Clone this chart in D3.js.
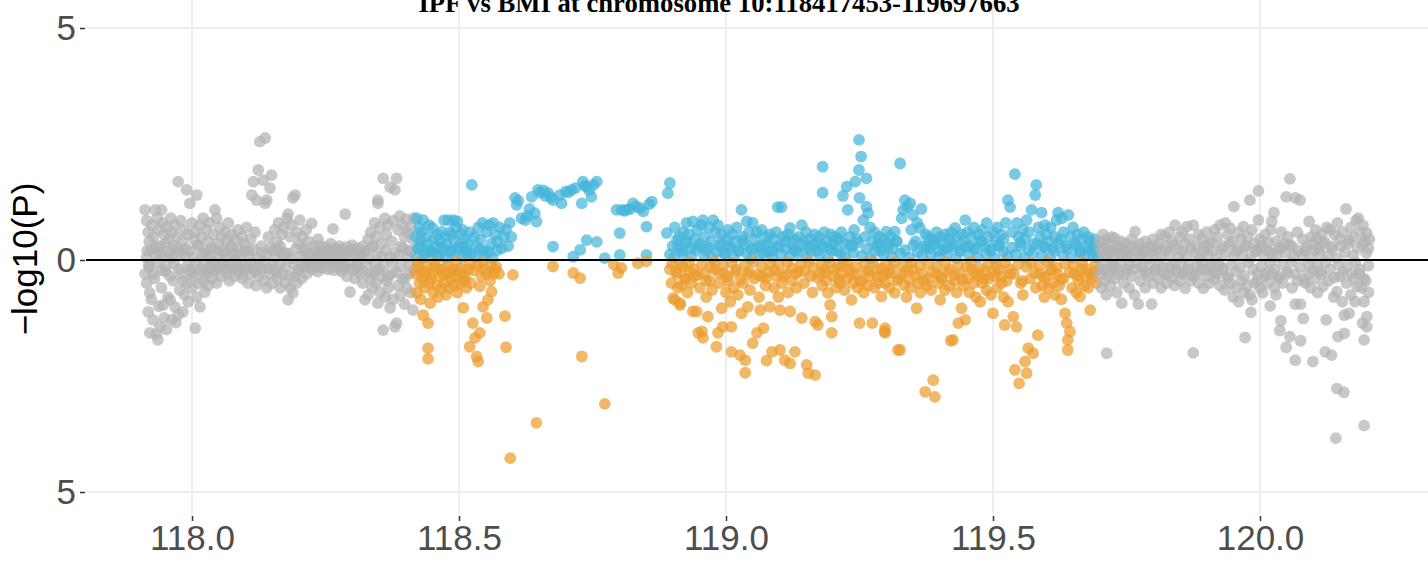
<!DOCTYPE html>
<html><head><meta charset="utf-8">
<script src="https://cdn.jsdelivr.net/npm/d3@7"></script>
<style>html,body{margin:0;padding:0;background:#fff}svg{display:block}</style>
</head><body>
<script>
const title = "IPF vs BMI at chromosome 10:118417453-119697663";
const regionStart = 118.417453, regionEnd = 119.697663;
const xTicks = [118.0, 118.5, 119.0, 119.5, 120.0];
const yTicks = [-5, 0, 5];

// upper panel: IPF  [position Mb, -log10(P)]
const topPoints = [
[117.912,1.08],[117.931,1.08],[117.943,1.08],[117.915,0.85],[117.918,0.6],[117.92,0.4],[117.916,0.2],[117.925,0.75],[117.928,0.5],[117.932,0.3],[117.935,0.9],[117.938,0.65],[117.94,0.15],[117.945,0.8],[117.948,0.55],[117.95,0.35],[117.953,0.7],[117.956,0.45],[117.958,0.1],[117.96,0.9],[117.963,0.6],[117.966,0.3],[117.968,0.75],[117.971,0.5],[117.974,1.69],[117.976,0.2],[117.979,0.85],[117.982,0.4],[117.985,0.65],[117.988,0.25],[117.99,1.51],[117.992,0.55],[117.996,1.22],[118.0,0.8],[118.003,0.45],[118.006,0.6],[118.009,1.4],[118.012,0.3],[118.015,0.75],[118.018,0.5],[118.021,0.9],[118.024,0.15],[118.027,0.65],[118.03,0.4],[118.033,0.8],[118.036,0.25],[118.04,0.55],[118.043,1.08],[118.046,0.9],[118.049,0.35],[118.052,0.7],[118.055,0.5],[118.058,0.2],[118.062,0.6],[118.065,0.4],[118.068,0.8],[118.072,0.3],[118.075,0.55],[118.078,0.1],[118.082,0.45],[118.086,0.65],[118.09,0.25],[118.094,0.5],[118.098,0.35],[118.102,0.7],[118.106,0.2],[118.11,0.45],[118.112,1.4],[118.115,1.69],[118.118,0.6],[118.121,1.29],[118.124,1.94],[118.127,2.55],[118.13,0.3],[118.133,1.72],[118.137,2.63],[118.137,1.22],[118.14,1.29],[118.143,0.5],[118.146,1.55],[118.149,1.83],[118.152,0.2],[118.155,0.65],[118.158,0.4],[118.162,0.8],[118.165,0.3],[118.168,0.55],[118.172,0.7],[118.175,0.15],[118.178,0.9],[118.18,0.99],[118.184,0.5],[118.186,0.75],[118.189,1.34],[118.193,1.4],[118.196,0.6],[118.2,0.35],[118.202,0.86],[118.206,0.5],[118.21,0.25],[118.214,0.65],[118.218,0.4],[118.224,0.79],[118.228,0.3],[118.232,0.2],[118.236,0.45],[118.24,0.3],[118.245,0.15],[118.25,0.28],[118.255,0.2],[118.26,0.35],[118.264,0.67],[118.268,0.25],[118.272,0.18],[118.276,0.3],[118.28,0.22],[118.284,0.12],[118.287,0.99],[118.29,0.28],[118.295,0.2],[118.3,0.32],[118.305,0.15],[118.31,0.25],[118.315,0.1],[118.32,0.3],[118.325,0.2],[118.33,0.45],[118.335,0.6],[118.338,0.3],[118.342,0.8],[118.345,0.5],[118.348,1.29],[118.348,1.22],[118.352,0.7],[118.355,0.35],[118.358,1.76],[118.361,0.9],[118.364,0.55],[118.367,0.75],[118.371,1.57],[118.374,0.4],[118.377,0.85],[118.38,1.51],[118.383,1.76],[118.386,0.65],[118.389,0.95],[118.392,0.3],[118.395,0.75],[118.398,0.5],[118.401,0.88],[118.404,0.6],[118.407,0.2],[118.41,0.7],[118.413,0.45],[118.415,0.9],
[118.419,0.5],[118.421,0.9],[118.423,0.25],[118.426,0.7],[118.428,0.4],[118.43,0.6],[118.433,0.86],[118.436,0.15],[118.438,0.5],[118.441,0.35],[118.444,0.75],[118.447,0.2],[118.45,0.69],[118.453,0.45],[118.456,0.3],[118.459,0.55],[118.462,0.1],[118.465,0.4],[118.467,0.61],[118.47,0.25],[118.472,0.86],[118.474,0.5],[118.477,0.35],[118.48,0.86],[118.483,0.6],[118.485,0.2],[118.487,0.54],[118.49,0.86],[118.492,0.4],[118.494,0.7],[118.497,0.83],[118.5,0.3],[118.503,0.55],[118.507,0.65],[118.508,0.29],[118.511,0.45],[118.514,0.15],[118.517,0.35],[118.52,0.6],[118.524,1.62],[118.528,0.5],[118.532,0.3],[118.536,0.7],[118.54,0.45],[118.544,0.8],[118.548,0.2],[118.552,0.6],[118.556,0.75],[118.56,0.35],[118.564,0.8],[118.568,0.55],[118.572,0.4],[118.576,0.7],[118.58,0.25],[118.584,0.5],[118.588,0.65],[118.592,0.3],[118.595,0.8],[118.598,0.5],[118.605,1.34],[118.608,1.19],[118.611,1.28],[118.617,0.9],[118.624,0.86],[118.628,0.95],[118.632,1.1],[118.636,1.36],[118.642,1.01],[118.645,0.83],[118.648,1.51],[118.652,1.45],[118.658,1.5],[118.662,1.38],[118.667,1.44],[118.672,1.35],[118.676,1.29],[118.676,0.29],[118.689,1.40],[118.692,1.22],[118.7,1.48],[118.705,1.46],[118.711,1.51],[118.714,0.07],[118.718,1.55],[118.727,0.22],[118.73,1.22],[118.732,1.69],[118.736,1.6],[118.739,1.58],[118.739,0.43],[118.744,1.5],[118.748,1.36],[118.752,1.62],[118.758,1.69],[118.758,0.39],[118.773,0.04],[118.795,1.08],[118.801,0.58],[118.801,0.11],[118.805,1.08],[118.81,1.06],[118.814,1.08],[118.82,1.1],[118.826,1.22],[118.832,1.15],[118.839,1.12],[118.845,1.05],[118.851,0.72],[118.851,0.11],[118.856,1.2],[118.861,1.26],[118.889,0.58],[118.891,1.44],[118.895,1.66],[118.9,0.3],[118.904,0.7],[118.908,0.43],[118.912,0.5],[118.916,0.2],[118.92,0.6],[118.924,0.35],[118.926,0.8],[118.93,0.55],[118.934,0.25],[118.938,0.83],[118.942,0.45],[118.946,0.65],[118.95,0.3],[118.954,0.75],[118.957,0.86],[118.96,0.5],[118.964,0.2],[118.968,0.7],[118.972,0.4],[118.976,0.86],[118.98,0.6],[118.985,0.75],[118.988,0.3],[118.992,0.55],[118.996,0.15],[119.0,0.45],[119.004,0.65],[119.008,0.25],[119.012,0.55],[119.016,0.4],[119.02,0.7],[119.024,0.2],[119.029,1.08],[119.032,0.5],[119.036,0.35],[119.039,0.83],[119.043,0.6],[119.047,0.25],[119.05,0.8],[119.054,0.45],[119.058,0.6],[119.062,0.3],[119.067,0.65],[119.07,0.15],[119.074,0.5],[119.078,0.35],[119.082,0.55],[119.086,0.2],[119.09,0.45],[119.094,0.6],[119.097,1.14],[119.1,0.3],[119.104,1.14],[119.108,0.5],[119.112,0.25],[119.116,0.55],[119.12,0.69],[119.124,0.35],[119.128,0.45],[119.132,0.2],[119.136,0.5],[119.142,0.75],[119.146,0.4],[119.15,0.6],[119.154,0.25],[119.158,0.45],[119.162,0.3],[119.166,0.55],[119.17,0.2],[119.174,0.5],[119.178,0.35],[119.181,2.01],[119.181,1.45],[119.184,0.6],[119.188,0.4],[119.192,0.25],[119.196,0.55],[119.2,0.35],[119.204,0.5],[119.208,0.2],[119.212,0.45],[119.216,0.6],[119.219,1.38],[119.222,0.35],[119.226,1.58],[119.228,1.08],[119.232,0.5],[119.236,0.3],[119.24,0.65],[119.242,1.69],[119.245,0.45],[119.249,2.59],[119.249,1.94],[119.25,1.34],[119.253,2.23],[119.257,0.86],[119.26,0.5],[119.263,1.76],[119.263,1.15],[119.266,1.01],[119.27,0.7],[119.274,0.4],[119.278,0.6],[119.282,0.3],[119.286,0.5],[119.29,0.2],[119.294,0.45],[119.3,0.61],[119.304,0.35],[119.308,0.5],[119.312,0.25],[119.316,0.61],[119.32,0.4],[119.326,2.08],[119.329,0.9],[119.332,1.08],[119.335,1.29],[119.34,1.15],[119.345,1.22],[119.347,0.65],[119.35,0.97],[119.355,0.4],[119.358,0.8],[119.363,0.69],[119.366,1.1],[119.37,0.3],[119.374,0.55],[119.378,0.5],[119.382,0.25],[119.386,0.45],[119.39,0.35],[119.394,0.6],[119.398,0.2],[119.402,0.5],[119.406,0.35],[119.41,0.55],[119.414,0.25],[119.418,0.45],[119.422,0.6],[119.426,0.3],[119.429,0.69],[119.433,0.5],[119.437,0.2],[119.441,0.55],[119.445,0.4],[119.448,0.86],[119.452,0.6],[119.456,0.3],[119.46,0.5],[119.464,0.7],[119.468,0.25],[119.472,0.55],[119.476,0.4],[119.48,0.65],[119.484,0.3],[119.488,0.8],[119.492,0.5],[119.496,0.2],[119.5,0.6],[119.504,0.4],[119.508,0.7],[119.512,0.3],[119.516,0.55],[119.52,0.45],[119.524,0.8],[119.528,1.29],[119.532,1.14],[119.536,0.6],[119.541,1.85],[119.545,0.8],[119.548,0.5],[119.552,0.3],[119.556,0.65],[119.56,0.45],[119.563,0.86],[119.567,0.6],[119.572,1.08],[119.576,0.35],[119.579,1.40],[119.581,1.62],[119.585,0.7],[119.588,0.5],[119.591,1.02],[119.594,0.3],[119.597,0.75],[119.6,0.55],[119.604,0.4],[119.608,0.7],[119.612,0.25],[119.616,0.5],[119.619,0.86],[119.622,1.02],[119.626,0.45],[119.629,0.9],[119.632,0.6],[119.636,0.3],[119.641,0.97],[119.645,0.5],[119.65,0.7],[119.654,0.35],[119.658,0.55],[119.662,0.2],[119.666,0.45],[119.67,0.6],[119.674,0.3],[119.678,0.5],[119.682,0.4],[119.686,0.2],[119.69,0.45],[119.694,0.3],
[119.7,0.4],[119.703,0.2],[119.706,0.55],[119.709,0.3],[119.712,0.45],[119.715,0.1],[119.718,0.35],[119.722,0.5],[119.725,0.2],[119.728,0.47],[119.732,0.3],[119.736,0.15],[119.74,0.4],[119.744,0.25],[119.748,0.35],[119.752,0.1],[119.756,0.3],[119.76,0.45],[119.766,0.61],[119.77,0.2],[119.775,0.35],[119.78,0.15],[119.785,0.4],[119.79,0.25],[119.795,0.3],[119.8,0.45],[119.805,0.2],[119.81,0.35],[119.815,0.55],[119.822,0.5],[119.826,0.3],[119.83,0.6],[119.835,0.4],[119.841,0.75],[119.845,0.25],[119.85,0.5],[119.855,0.6],[119.86,0.35],[119.863,0.72],[119.868,0.45],[119.875,0.75],[119.88,0.3],[119.885,0.55],[119.891,0.47],[119.895,0.2],[119.9,0.6],[119.905,0.35],[119.91,0.39],[119.915,0.65],[119.92,0.5],[119.925,0.75],[119.93,0.3],[119.935,0.8],[119.94,0.55],[119.944,0.69],[119.948,0.4],[119.951,1.15],[119.955,0.2],[119.96,0.6],[119.965,0.45],[119.969,0.72],[119.973,0.3],[119.977,0.5],[119.981,1.29],[119.985,0.65],[119.99,0.35],[119.994,0.2],[119.997,1.49],[119.997,0.86],[120.0,0.45],[120.005,0.3],[120.01,0.55],[120.015,0.2],[120.02,0.65],[120.022,0.83],[120.026,1.02],[120.03,0.4],[120.035,0.25],[120.04,0.6],[120.045,0.35],[120.049,1.36],[120.052,0.5],[120.056,1.75],[120.06,0.3],[120.066,1.34],[120.07,0.6],[120.075,1.29],[120.08,0.45],[120.085,0.2],[120.092,0.83],[120.096,0.5],[120.1,0.35],[120.104,0.65],[120.106,0.47],[120.11,0.25],[120.115,0.55],[120.12,0.4],[120.125,0.7],[120.131,0.65],[120.135,0.3],[120.14,0.55],[120.145,0.8],[120.15,0.45],[120.155,0.6],[120.161,1.1],[120.165,0.35],[120.17,0.7],[120.175,0.5],[120.18,0.85],[120.184,0.9],[120.188,0.6],[120.193,0.75],[120.196,0.4],[120.2,0.58],[120.203,0.25]
];

// upper panel, dense band of weak signals near zero
const topBand = [
[117.915,0.05],[117.923,0.22],[117.931,0.12],[117.939,0.3],[117.947,0.08],[117.955,0.18],[117.963,0.04],[117.971,0.26],[117.979,0.14],[117.987,0.09],
[117.995,0.2],[118.003,0.06],[118.011,0.32],[118.019,0.11],[118.027,0.17],[118.035,0.03],[118.043,0.24],[118.051,0.1],[118.059,0.15],[118.067,0.07],
[118.075,0.28],[118.083,0.13],[118.091,0.05],[118.099,0.19],[118.107,0.09],[118.115,0.23],[118.123,0.04],[118.131,0.16],[118.139,0.12],[118.147,0.27],
[118.155,0.06],[118.163,0.2],[118.171,0.1],[118.179,0.14],[118.187,0.03],[118.195,0.25],[118.203,0.08],[118.211,0.18],[118.219,0.12],[118.227,0.06],
[118.235,0.15],[118.243,0.1],[118.251,0.2],[118.259,0.05],[118.267,0.12],[118.275,0.18],[118.283,0.08],[118.291,0.14],[118.299,0.22],[118.307,0.06],
[118.315,0.11],[118.323,0.17],[118.331,0.04],[118.339,0.29],[118.347,0.13],[118.355,0.08],[118.363,0.21],[118.371,0.05],[118.379,0.16],[118.387,0.1],
[118.395,0.26],[118.403,0.07],[118.411,0.19],[118.419,0.12],[118.427,0.3],[118.435,0.05],[118.443,0.22],[118.451,0.15],[118.459,0.09],[118.467,0.27],
[118.475,0.04],[118.483,0.18],[118.491,0.11],[118.499,0.24],[118.507,0.07],[118.515,0.2],[118.523,0.13],[118.531,0.06],[118.539,0.25],[118.547,0.1],
[118.555,0.17],[118.563,0.04],[118.571,0.21],
[118.895,0.12],[118.903,0.05],[118.911,0.28],[118.919,0.15],[118.927,0.4],[118.935,0.08],[118.943,0.22],[118.951,0.35],[118.959,0.1],[118.967,0.26],
[118.975,0.04],[118.983,0.18],[118.991,0.38],[118.999,0.12],[119.007,0.3],[119.015,0.06],[119.023,0.2],[119.031,0.42],[119.039,0.14],[119.047,0.03],
[119.055,0.25],[119.063,0.1],[119.071,0.33],[119.079,0.17],[119.087,0.06],[119.095,0.28],[119.103,0.12],[119.111,0.4],[119.119,0.08],[119.127,0.22],
[119.135,0.15],[119.143,0.32],[119.151,0.05],[119.159,0.18],[119.167,0.36],[119.175,0.1],[119.183,0.27],[119.191,0.04],[119.199,0.2],[119.207,0.44],
[119.215,0.13],[119.223,0.07],[119.231,0.3],[119.239,0.16],[119.247,0.38],[119.255,0.09],[119.263,0.24],[119.271,0.03],[119.279,0.19],[119.287,0.35],
[119.295,0.11],[119.303,0.26],[119.311,0.06],[119.319,0.4],[119.327,0.14],[119.335,0.21],[119.343,0.05],[119.351,0.32],[119.359,0.17],[119.367,0.09],
[119.375,0.28],[119.383,0.12],[119.391,0.42],[119.399,0.07],[119.407,0.23],[119.415,0.15],[119.423,0.36],[119.431,0.04],[119.439,0.19],[119.447,0.3],
[119.455,0.1],[119.463,0.25],[119.471,0.06],[119.479,0.4],[119.487,0.14],[119.495,0.22],[119.503,0.03],[119.511,0.33],[119.519,0.18],[119.527,0.08],
[119.535,0.27],[119.543,0.12],[119.551,0.38],[119.559,0.05],[119.567,0.21],[119.575,0.15],[119.583,0.34],[119.591,0.09],[119.599,0.26],[119.607,0.04],
[119.615,0.19],[119.623,0.36],[119.631,0.11],[119.639,0.24],[119.647,0.06],[119.655,0.3],[119.663,0.16],[119.671,0.08],[119.679,0.22],[119.687,0.12],
[119.695,0.05],[119.703,0.28],[119.711,0.1],[119.719,0.2],[119.727,0.05],[119.735,0.25],[119.743,0.12],[119.751,0.18],[119.759,0.06],[119.767,0.3],
[119.775,0.1],[119.783,0.22],[119.791,0.04],[119.799,0.15],[119.807,0.27],[119.815,0.08],[119.823,0.2],[119.831,0.12],[119.839,0.32],[119.847,0.05],
[119.855,0.18],[119.863,0.1],[119.871,0.26],[119.879,0.14],[119.887,0.06],[119.895,0.3],[119.903,0.12],[119.911,0.2],[119.919,0.04],[119.927,0.24],
[119.935,0.15],[119.943,0.35],[119.951,0.08],[119.959,0.22],[119.967,0.12],[119.975,0.3],[119.983,0.05],[119.991,0.18],[119.999,0.26],[120.007,0.1],
[120.015,0.38],[120.023,0.14],[120.031,0.06],[120.039,0.25],[120.047,0.16],[120.055,0.32],[120.063,0.08],[120.071,0.2],[120.079,0.12],[120.087,0.28],
[120.095,0.05],[120.103,0.22],[120.111,0.14],[120.119,0.35],[120.127,0.1],[120.135,0.24],[120.143,0.04],[120.151,0.3],[120.159,0.16],[120.167,0.42],
[120.175,0.1],[120.183,0.26],[120.191,0.35],[120.199,0.15],[120.205,0.45]
];

// lower panel: BMI  [position Mb, -log10(P)] (drawn downwards)
const bottomPoints = [
[117.912,0.3],[117.915,0.5],[117.918,1.12],[117.92,0.15],[117.921,0.71],[117.921,1.57],[117.924,0.85],[117.927,1.29],[117.93,0.4],[117.933,1.6],[117.936,1.72],[117.938,1.0],[117.94,1.44],[117.943,0.6],[117.946,0.97],[117.948,1.25],[117.95,0.25],[117.952,1.5],[117.955,0.8],[117.959,0.86],[117.962,1.29],[117.965,0.45],[117.968,1.01],[117.97,1.35],[117.974,1.18],[117.977,0.65],[117.98,0.3],[117.983,1.12],[117.986,0.75],[117.99,0.5],[117.993,0.9],[117.996,0.2],[118.0,0.6],[118.003,0.35],[118.006,1.47],[118.009,0.8],[118.012,0.5],[118.015,1.01],[118.018,0.25],[118.021,0.45],[118.024,0.69],[118.027,0.3],[118.03,0.55],[118.034,0.15],[118.038,0.4],[118.042,0.25],[118.046,0.5],[118.05,0.2],[118.055,0.35],[118.06,0.1],[118.065,0.3],[118.07,0.45],[118.075,0.2],[118.08,0.35],[118.085,0.15],[118.09,0.3],[118.095,0.4],[118.1,0.2],[118.105,0.5],[118.11,0.3],[118.115,0.15],[118.12,0.55],[118.125,0.35],[118.13,0.2],[118.135,0.45],[118.14,0.6],[118.145,0.3],[118.15,0.5],[118.155,0.2],[118.16,0.4],[118.165,0.6],[118.17,0.3],[118.175,0.5],[118.18,0.86],[118.184,0.6],[118.189,0.71],[118.192,0.35],[118.196,0.5],[118.2,0.2],[118.205,0.4],[118.21,0.15],[118.215,0.3],[118.22,0.1],[118.225,0.2],[118.23,0.12],[118.235,0.25],[118.24,0.1],[118.245,0.18],[118.25,0.08],[118.255,0.2],[118.26,0.12],[118.265,0.22],[118.27,0.1],[118.275,0.18],[118.28,0.25],[118.285,0.12],[118.29,0.35],[118.296,0.69],[118.3,0.2],[118.305,0.4],[118.31,0.15],[118.315,0.3],[118.32,0.5],[118.324,0.86],[118.33,0.75],[118.334,0.4],[118.338,0.6],[118.342,0.25],[118.345,0.5],[118.348,0.93],[118.352,0.7],[118.355,0.35],[118.358,1.51],[118.362,0.8],[118.365,0.45],[118.368,0.6],[118.371,1.03],[118.374,0.3],[118.377,0.85],[118.38,1.44],[118.383,1.36],[118.386,0.55],[118.39,0.75],[118.394,0.4],[118.398,0.95],[118.402,0.6],[118.406,0.3],[118.41,0.7],[118.414,1.08],
[118.419,0.3],[118.421,0.71],[118.423,0.15],[118.426,0.5],[118.428,0.85],[118.431,0.4],[118.433,1.19],[118.436,0.6],[118.438,0.25],[118.442,1.36],[118.442,1.9],[118.442,2.13],[118.444,0.5],[118.446,0.93],[118.449,0.3],[118.452,0.7],[118.455,0.15],[118.458,0.55],[118.461,0.8],[118.464,0.35],[118.467,0.6],[118.47,0.2],[118.473,0.5],[118.476,0.75],[118.479,0.3],[118.482,0.6],[118.485,0.4],[118.488,0.2],[118.491,0.55],[118.494,0.35],[118.497,0.7],[118.5,0.25],[118.503,0.5],[118.506,0.3],[118.508,1.03],[118.511,0.45],[118.514,0.6],[118.517,0.2],[118.52,1.87],[118.522,0.5],[118.526,1.36],[118.53,1.68],[118.533,2.08],[118.536,2.19],[118.539,1.57],[118.539,0.57],[118.542,0.35],[118.545,1.01],[118.548,0.2],[118.552,1.25],[118.554,0.86],[118.558,0.45],[118.561,0.68],[118.565,0.3],[118.57,0.15],[118.575,0.3],[118.586,1.21],[118.588,1.88],[118.596,4.27],[118.601,0.32],[118.645,3.51],[118.676,0.14],[118.714,0.28],[118.727,0.39],[118.73,2.08],[118.773,3.1],[118.79,0.1],[118.798,0.28],[118.804,0.17],[118.835,0.07],[118.851,0.03],[118.895,0.2],[118.898,0.5],[118.901,0.82],[118.904,0.86],[118.907,0.3],[118.91,0.6],[118.914,0.93],[118.914,0.97],[118.917,0.54],[118.92,0.15],[118.924,0.4],[118.928,0.7],[118.932,0.25],[118.935,0.5],[118.938,1.11],[118.941,0.35],[118.945,1.11],[118.948,1.57],[118.951,0.6],[118.955,1.54],[118.957,1.68],[118.96,0.3],[118.963,0.8],[118.966,1.22],[118.97,0.45],[118.974,0.65],[118.978,0.2],[118.982,1.87],[118.985,1.57],[118.988,0.5],[118.992,1.04],[118.994,1.44],[118.997,0.3],[119.0,0.7],[119.004,0.45],[119.008,0.9],[119.01,1.98],[119.01,1.44],[119.014,0.6],[119.018,0.25],[119.022,0.75],[119.026,2.05],[119.029,1.15],[119.032,0.5],[119.036,2.16],[119.036,2.43],[119.04,0.3],[119.041,1.01],[119.045,0.65],[119.05,1.79],[119.053,0.4],[119.058,1.57],[119.062,0.8],[119.064,1.08],[119.067,0.35],[119.07,1.47],[119.074,0.55],[119.076,2.17],[119.08,0.25],[119.082,1.01],[119.086,1.98],[119.09,0.6],[119.094,0.35],[119.098,0.8],[119.101,1.94],[119.101,1.08],[119.105,0.5],[119.11,2.16],[119.113,0.3],[119.116,0.7],[119.12,2.23],[119.12,1.11],[119.124,0.45],[119.129,1.98],[119.132,0.6],[119.136,0.25],[119.142,1.25],[119.146,0.5],[119.151,2.26],[119.154,2.44],[119.158,0.35],[119.162,0.7],[119.167,2.48],[119.167,1.33],[119.172,1.4],[119.176,0.3],[119.18,0.55],[119.184,0.2],[119.188,0.45],[119.191,0.71],[119.195,0.97],[119.198,1.22],[119.198,1.57],[119.202,0.35],[119.206,0.6],[119.21,0.15],[119.214,0.5],[119.218,0.3],[119.222,0.65],[119.226,0.4],[119.23,0.2],[119.235,0.86],[119.238,0.5],[119.242,0.3],[119.246,0.6],[119.25,1.36],[119.254,0.45],[119.258,0.7],[119.262,0.25],[119.266,0.55],[119.27,0.35],[119.274,1.36],[119.278,0.6],[119.282,0.2],[119.286,0.5],[119.291,0.79],[119.294,0.35],[119.297,1.54],[119.298,1.47],[119.298,1.57],[119.298,0.5],[119.302,0.3],[119.306,0.6],[119.31,0.2],[119.316,0.71],[119.32,0.45],[119.322,1.94],[119.326,1.94],[119.33,0.3],[119.334,0.55],[119.338,0.8],[119.342,0.4],[119.346,0.6],[119.35,0.2],[119.357,1.04],[119.36,0.5],[119.364,0.7],[119.368,0.3],[119.373,2.84],[119.376,0.55],[119.38,0.4],[119.384,0.65],[119.388,2.59],[119.391,2.95],[119.395,0.3],[119.398,0.5],[119.401,0.86],[119.405,0.4],[119.41,0.65],[119.414,0.25],[119.418,0.55],[119.421,1.74],[119.425,1.72],[119.428,0.45],[119.432,0.7],[119.435,1.36],[119.438,0.3],[119.441,1.04],[119.445,0.55],[119.448,1.29],[119.452,0.4],[119.456,0.7],[119.46,0.2],[119.464,0.5],[119.468,0.8],[119.472,0.35],[119.476,0.9],[119.48,0.5],[119.484,0.25],[119.488,0.65],[119.492,0.4],[119.496,0.75],[119.5,1.15],[119.504,0.35],[119.508,0.6],[119.512,0.2],[119.516,0.5],[119.52,0.8],[119.522,1.4],[119.526,0.45],[119.528,0.9],[119.532,0.3],[119.538,1.22],[119.541,2.37],[119.544,1.44],[119.549,2.66],[119.552,0.5],[119.556,0.75],[119.56,2.19],[119.563,2.44],[119.566,1.9],[119.57,0.4],[119.575,2.01],[119.58,0.6],[119.584,1.62],[119.588,0.3],[119.592,0.55],[119.596,0.8],[119.6,0.35],[119.604,0.6],[119.608,0.2],[119.612,0.5],[119.616,0.75],[119.62,0.3],[119.624,0.55],[119.628,0.85],[119.632,0.4],[119.635,1.15],[119.638,1.36],[119.64,1.94],[119.64,1.72],[119.644,1.54],[119.648,0.6],[119.652,0.3],[119.656,0.7],[119.66,0.45],[119.663,0.79],[119.667,0.2],[119.671,0.55],[119.675,0.35],[119.678,0.6],[119.682,1.08],[119.686,0.4],[119.69,0.25],[119.694,0.5],
[119.7,0.3],[119.703,0.6],[119.706,0.2],[119.709,0.45],[119.713,2.01],[119.712,0.75],[119.716,0.35],[119.72,0.55],[119.724,0.15],[119.728,0.4],[119.732,0.7],[119.736,0.3],[119.741,0.93],[119.745,0.5],[119.75,0.2],[119.755,0.6],[119.76,0.35],[119.765,0.75],[119.772,0.95],[119.776,0.45],[119.78,0.25],[119.785,0.6],[119.79,0.35],[119.797,0.95],[119.8,0.5],[119.805,0.2],[119.81,0.4],[119.815,0.6],[119.82,0.3],[119.825,0.5],[119.83,0.15],[119.835,0.4],[119.84,0.55],[119.845,0.25],[119.85,0.45],[119.855,0.3],[119.86,0.61],[119.865,0.2],[119.87,0.45],[119.875,2.0],[119.88,0.3],[119.885,0.5],[119.89,0.2],[119.894,0.61],[119.9,0.35],[119.905,0.5],[119.91,0.15],[119.915,0.4],[119.92,0.3],[119.925,0.55],[119.93,0.2],[119.934,0.65],[119.94,0.35],[119.945,0.5],[119.95,0.8],[119.955,0.6],[119.96,0.9],[119.965,0.45],[119.97,0.7],[119.972,1.67],[119.975,0.55],[119.981,0.75],[119.983,1.13],[119.985,0.86],[119.99,0.5],[119.995,0.3],[120.0,0.6],[120.005,0.71],[120.01,0.35],[120.015,0.5],[120.019,0.99],[120.023,0.3],[120.027,0.6],[120.03,0.75],[120.034,0.4],[120.037,1.52],[120.039,1.31],[120.043,0.5],[120.049,1.88],[120.052,0.3],[120.056,1.65],[120.06,0.6],[120.066,2.16],[120.066,0.95],[120.07,0.45],[120.076,1.74],[120.076,0.95],[120.081,1.26],[120.085,0.5],[120.09,0.3],[120.095,0.6],[120.099,2.19],[120.103,0.4],[120.108,0.7],[120.113,0.25],[120.118,0.57],[120.122,1.98],[120.124,1.29],[120.128,0.45],[120.134,2.05],[120.138,0.8],[120.142,3.84],[120.144,2.77],[120.144,0.68],[120.146,1.65],[120.15,0.35],[120.154,0.9],[120.157,2.85],[120.158,1.58],[120.158,1.19],[120.162,0.5],[120.167,1.15],[120.17,0.75],[120.175,0.4],[120.178,0.9],[120.182,0.57],[120.186,0.3],[120.19,0.6],[120.192,1.36],[120.195,1.72],[120.195,0.9],[120.195,3.57],[120.198,0.45],[120.2,1.44],[120.2,1.22],[120.203,0.7]
];

// lower panel, dense band of weak signals near zero
const bottomBand = [
[117.919,0.1],[117.927,0.3],[117.935,0.05],[117.943,0.22],[117.951,0.14],[117.959,0.35],[117.967,0.08],[117.975,0.2],[117.983,0.45],[117.991,0.12],
[117.999,0.28],[118.007,0.06],[118.015,0.18],[118.023,0.1],[118.031,0.25],[118.039,0.04],[118.047,0.15],[118.055,0.08],[118.063,0.2],[118.071,0.12],
[118.079,0.05],[118.087,0.22],[118.095,0.1],[118.103,0.16],[118.111,0.06],[118.119,0.25],[118.127,0.12],[118.135,0.04],[118.143,0.18],[118.151,0.1],
[118.159,0.28],[118.167,0.06],[118.175,0.16],[118.183,0.35],[118.191,0.1],[118.199,0.22],[118.207,0.05],[118.215,0.12],[118.223,0.04],[118.231,0.08],
[118.239,0.15],[118.247,0.05],[118.255,0.1],[118.263,0.03],[118.271,0.12],[118.279,0.06],[118.287,0.15],[118.295,0.08],[118.303,0.18],[118.311,0.05],
[118.319,0.22],[118.327,0.1],[118.335,0.3],[118.343,0.06],[118.351,0.2],[118.359,0.12],[118.367,0.35],[118.375,0.05],[118.383,0.25],[118.391,0.14],
[118.399,0.4],[118.407,0.1],[118.415,0.22],[118.423,0.05],[118.431,0.28],[118.439,0.12],[118.447,0.4],[118.455,0.06],[118.463,0.2],[118.471,0.32],
[118.479,0.1],[118.487,0.25],[118.495,0.04],[118.503,0.18],[118.511,0.36],[118.519,0.08],[118.527,0.22],[118.535,0.12],[118.543,0.05],[118.551,0.3],
[118.559,0.1],[118.567,0.2],
[118.899,0.08],[118.907,0.25],[118.915,0.12],[118.923,0.4],[118.931,0.05],[118.939,0.2],[118.947,0.32],[118.955,0.1],[118.963,0.45],[118.971,0.15],
[118.979,0.04],[118.987,0.28],[118.995,0.12],[119.003,0.36],[119.011,0.06],[119.019,0.2],[119.027,0.42],[119.035,0.1],[119.043,0.25],[119.051,0.04],
[119.059,0.32],[119.067,0.14],[119.075,0.4],[119.083,0.07],[119.091,0.22],[119.099,0.12],[119.107,0.35],[119.115,0.05],[119.123,0.18],[119.131,0.3],
[119.139,0.1],[119.147,0.24],[119.155,0.04],[119.163,0.16],[119.171,0.38],[119.179,0.1],[119.187,0.27],[119.195,0.05],[119.203,0.2],[119.211,0.42],
[119.219,0.12],[119.227,0.06],[119.235,0.3],[119.243,0.15],[119.251,0.45],[119.259,0.08],[119.267,0.24],[119.275,0.04],[119.283,0.36],[119.291,0.18],
[119.299,0.1],[119.307,0.28],[119.315,0.05],[119.323,0.4],[119.331,0.14],[119.339,0.22],[119.347,0.06],[119.355,0.34],[119.363,0.12],[119.371,0.45],
[119.379,0.08],[119.387,0.26],[119.395,0.15],[119.403,0.38],[119.411,0.05],[119.419,0.2],[119.427,0.32],[119.435,0.1],[119.443,0.42],[119.451,0.14],
[119.459,0.04],[119.467,0.28],[119.475,0.18],[119.483,0.4],[119.491,0.08],[119.499,0.24],[119.507,0.12],[119.515,0.36],[119.523,0.05],[119.531,0.2],
[119.539,0.3],[119.547,0.1],[119.555,0.45],[119.563,0.15],[119.571,0.06],[119.579,0.28],[119.587,0.12],[119.595,0.38],[119.603,0.04],[119.611,0.22],
[119.619,0.16],[119.627,0.42],[119.635,0.08],[119.643,0.26],[119.651,0.12],[119.659,0.34],[119.667,0.05],[119.675,0.2],[119.683,0.3],[119.691,0.1],
[119.699,0.2],[119.707,0.05],[119.715,0.25],[119.723,0.1],[119.731,0.18],[119.739,0.04],[119.747,0.3],[119.755,0.12],[119.763,0.2],[119.771,0.06],
[119.779,0.15],[119.787,0.28],[119.795,0.1],[119.803,0.22],[119.811,0.05],[119.819,0.16],[119.827,0.32],[119.835,0.12],[119.843,0.2],[119.851,0.06],
[119.859,0.26],[119.867,0.1],[119.875,0.35],[119.883,0.14],[119.891,0.04],[119.899,0.22],[119.907,0.12],[119.915,0.28],[119.923,0.06],[119.931,0.18],
[119.939,0.4],[119.947,0.1],[119.955,0.25],[119.963,0.15],[119.971,0.35],[119.979,0.05],[119.987,0.2],[119.995,0.45],[120.003,0.12],[120.011,0.28],
[120.019,0.06],[120.027,0.2],[120.035,0.36],[120.043,0.1],[120.051,0.25],[120.059,0.04],[120.067,0.3],[120.075,0.15],[120.083,0.42],[120.091,0.08],
[120.099,0.22],[120.107,0.12],[120.115,0.32],[120.123,0.05],[120.131,0.2],[120.139,0.38],[120.147,0.1],[120.155,0.26],[120.163,0.14],[120.171,0.3],
[120.179,0.06],[120.187,0.2],[120.195,0.4],[120.203,0.12]
];

const W = 1428, H = 562;
const panel = {left: 86, right: 1428, top: 0, bottom: 514};
const x = d3.scaleLinear().domain([118, 120]).range([192, 1260]);
const y = d3.scaleLinear().domain([-5, 5]).range([492, 28]);

const svg = d3.select("body").append("svg").attr("width", W).attr("height", H);

// grid
const grid = svg.append("g");
grid.selectAll("line.v").data(xTicks).join("line")
  .attr("x1", d => x(d)).attr("x2", d => x(d))
  .attr("y1", panel.top).attr("y2", panel.bottom)
  .attr("stroke", "#eeeeee").attr("stroke-width", 2);
grid.selectAll("line.h").data(yTicks.filter(d => d !== 0)).join("line")
  .attr("x1", panel.left).attr("x2", panel.right)
  .attr("y1", d => y(d)).attr("y2", d => y(d))
  .attr("stroke", "#eeeeee").attr("stroke-width", 2);

const inRegion = d => d[0] >= regionStart && d[0] <= regionEnd;
const upper = topBand.concat(topPoints);
const lower = bottomBand.concat(bottomPoints);
const pts = svg.append("g");
pts.selectAll("circle.t").data(upper).join("circle")
  .attr("cx", d => x(d[0])).attr("cy", d => y(d[1])).attr("r", 5.9)
  .attr("fill", d => inRegion(d) ? "#45b6da" : "#b3b3b3").attr("fill-opacity", 0.72);
pts.selectAll("circle.b").data(lower).join("circle")
  .attr("cx", d => x(d[0])).attr("cy", d => y(-d[1])).attr("r", 5.9)
  .attr("fill", d => inRegion(d) ? "#ec9d2e" : "#b3b3b3").attr("fill-opacity", 0.72);

// zero line
svg.append("line").attr("x1", panel.left).attr("x2", panel.right)
  .attr("y1", y(0)).attr("y2", y(0)).attr("stroke", "#000").attr("stroke-width", 2);

// axes
const xAxis = svg.append("g").attr("transform", `translate(0,${panel.bottom + 2})`)
  .call(d3.axisBottom(x).tickValues(xTicks).tickFormat(d3.format(".1f")).tickSize(5).tickPadding(4));
xAxis.select(".domain").remove();
xAxis.selectAll("line").attr("stroke", "#333").attr("stroke-width", 1.5);
xAxis.selectAll("text").attr("fill", "#4d4d4d").style("font-family", "Liberation Sans, Arial, sans-serif").style("font-size", "35px");

const yAxis = svg.append("g").attr("transform", `translate(${panel.left - 1},0)`)
  .call(d3.axisLeft(y).tickValues(yTicks).tickFormat(d => Math.abs(d)).tickSize(5).tickPadding(4));
yAxis.select(".domain").remove();
yAxis.selectAll("line").attr("stroke", "#333").attr("stroke-width", 1.5);
yAxis.selectAll("text").attr("fill", "#4d4d4d").style("font-family", "Liberation Sans, Arial, sans-serif").style("font-size", "35px");

svg.append("text").attr("transform", "translate(37,259) rotate(-90)")
  .attr("text-anchor", "middle").attr("fill", "#000")
  .style("font-family", "Liberation Sans, Arial, sans-serif").style("font-size", "35px")
  .text("\u2212log10(P)");

svg.append("text").attr("x", 719).attr("y", 12).attr("text-anchor", "middle")
  .style("font-family", "Liberation Serif, Times New Roman, serif").style("font-weight", "bold").style("font-size", "26.7px")
  .text(title);
</script>
</body></html>
